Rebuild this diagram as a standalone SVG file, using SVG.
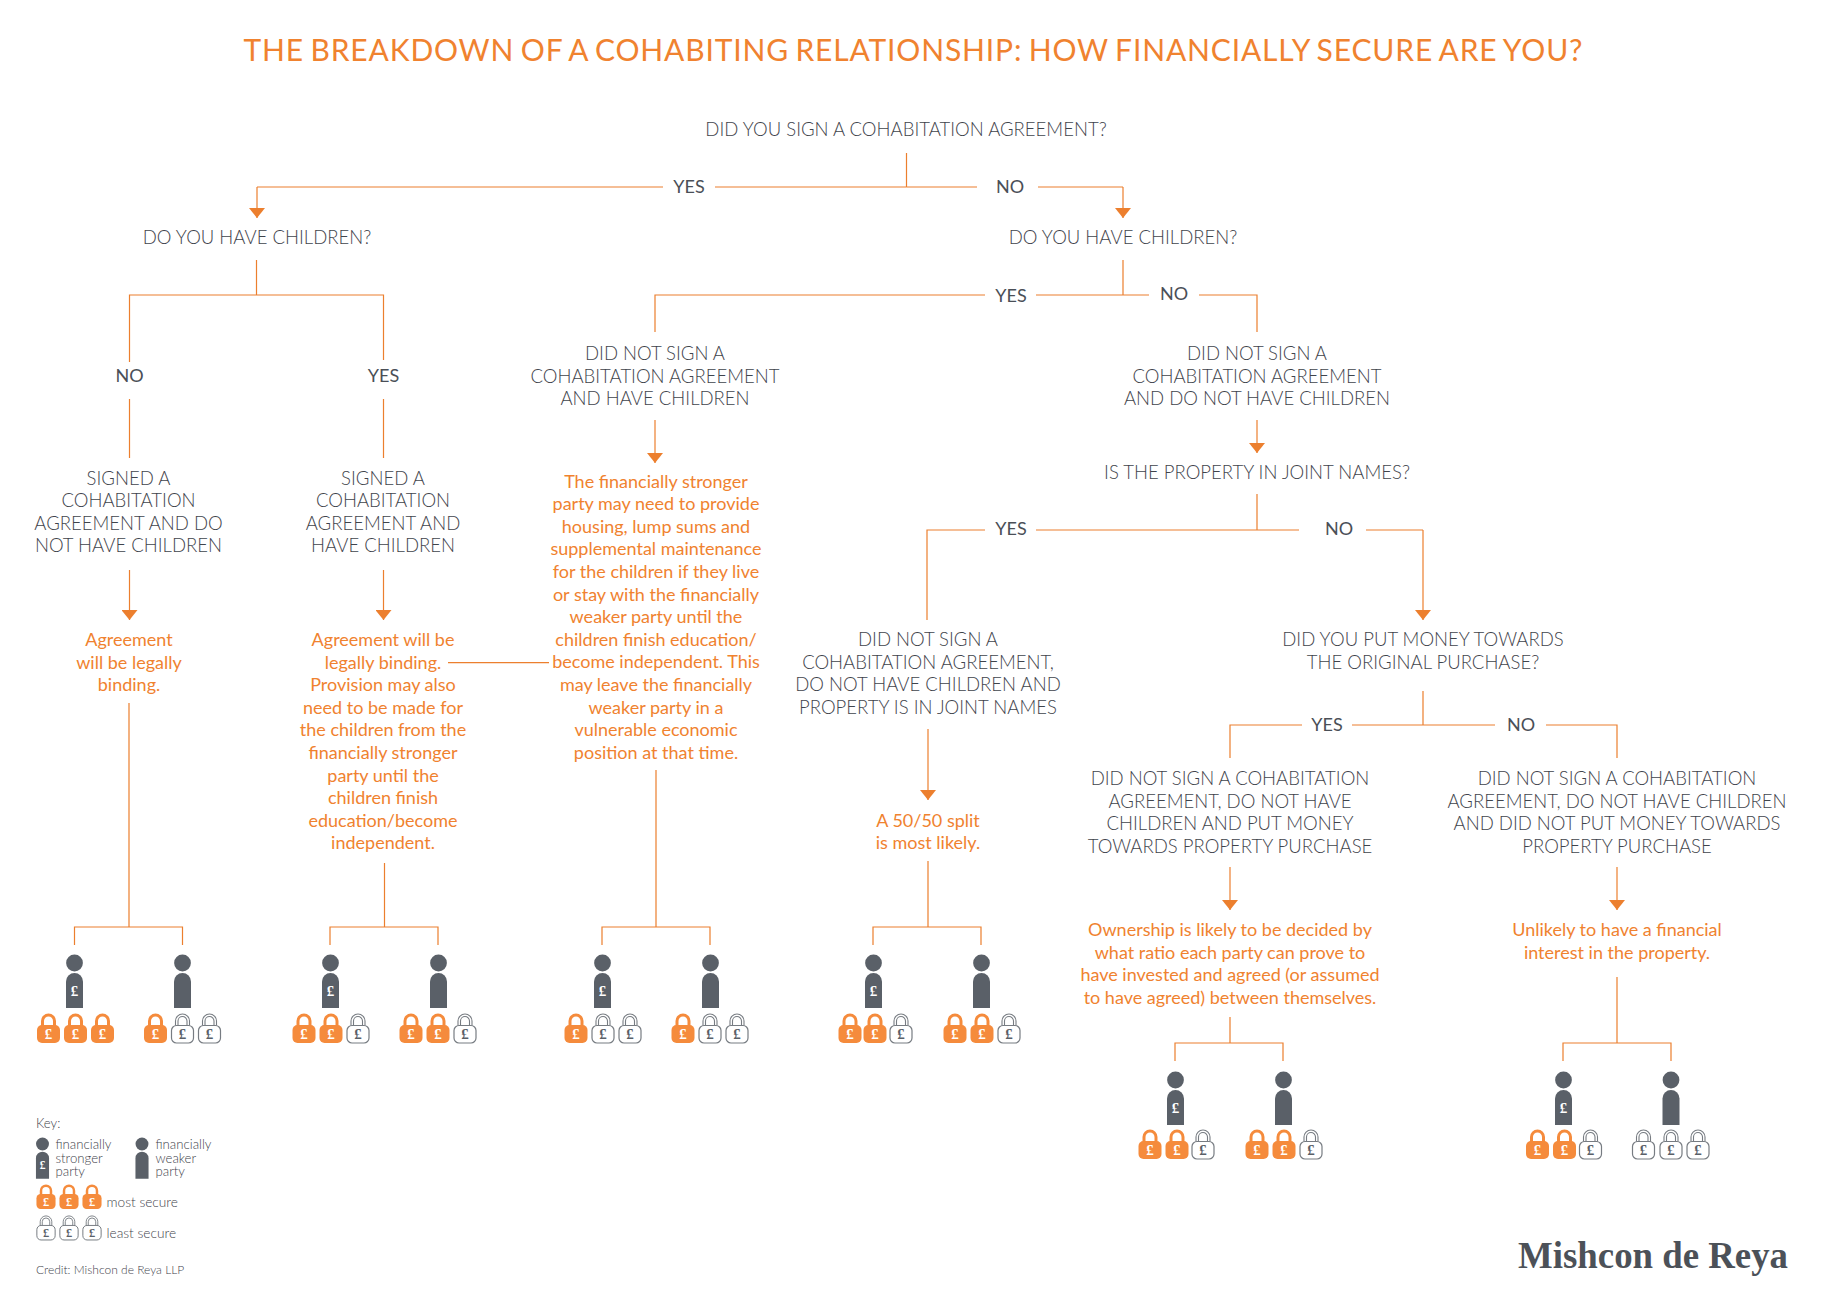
<svg xmlns="http://www.w3.org/2000/svg" width="1823" height="1293" viewBox="0 0 1823 1293">
<style>
text{font-family:"Lato","Open Sans","Liberation Sans",sans-serif}
.q{font-size:18.55px;font-weight:300;fill:#3f444c;text-anchor:middle}
.a{font-size:18px;font-weight:400;fill:#f0822f;text-anchor:middle}
.l{font-size:18px;font-weight:400;fill:#4a4f57;text-anchor:middle}
.k{font-size:13.2px;font-weight:300;fill:#3f444c}
.c{fill:none;stroke:#ec7f2e;stroke-width:1.2}
.arr{marker-end:url(#ah)}
.pw{fill:#fff;font-size:15px;font-weight:700;text-anchor:middle;font-family:"Liberation Serif",serif}
.pd{fill:#5a6068;font-size:15px;font-weight:700;text-anchor:middle;font-family:"Liberation Serif",serif}
</style>
<defs>
<marker id="ah" markerUnits="userSpaceOnUse" markerWidth="16" markerHeight="10" refX="8" refY="10" orient="0" viewBox="0 0 16 10"><path d="M0 0H16L8 10Z" fill="#ec7f2e"/></marker>
<g id="ps"><circle cx="0" cy="0" r="8.4" fill="#5a6068"/><path d="M-8.5 45V18.5a8.5 8.5 0 0 1 17 0V45Z" fill="#5a6068"/><text class="pw" y="33">£</text></g>
<g id="pw"><circle cx="0" cy="0" r="8.4" fill="#5a6068"/><path d="M-8.5 45V18.5a8.5 8.5 0 0 1 17 0V45Z" fill="#5a6068"/></g>
<g id="lo"><path d="M-6 -6V-13a6 6 0 0 1 12 0V-6" fill="none" stroke="#f58b3c" stroke-width="3"/><rect x="-11.5" y="-9" width="23" height="18" rx="5" fill="#f58b3c"/><text class="pw" y="5">£</text></g>
<g id="lg"><path d="M-7 -8V-13a7 7 0 0 1 14 0V-8M-4.5 -8V-13a4.5 4.5 0 0 1 9 0V-8" fill="none" stroke="#777c82" stroke-width="1.1"/><rect x="-11" y="-8.5" width="22" height="17.5" rx="5" fill="#fff" stroke="#777c82" stroke-width="1.2"/><text class="pd" y="5">£</text></g>
</defs>
<rect width="1823" height="1293" fill="#fff"/>
<text id="title" x="913" y="61" font-size="30" font-weight="400" fill="#f0822f" text-anchor="middle" word-spacing="-2" textLength="1339" lengthAdjust="spacing">THE BREAKDOWN OF A COHABITING RELATIONSHIP: HOW FINANCIALLY SECURE ARE YOU?</text>
<g id="connectors">
<path class="c" d="M906.5 153V187M906.5 187H715M663 187H257"/><path class="c arr" d="M257 187V218"/>
<path class="c" d="M906.5 187H977M1038 187H1123"/><path class="c arr" d="M1123 187V218"/>
<path class="c" d="M256.5 260V295M129.5 362V295H383.5V360M129.5 399V458M383.5 399V458"/>
<path class="c arr" d="M129.5 570V620"/><path class="c arr" d="M383.5 570V620"/>
<path class="c" d="M129 703V927M74.5 945V927H182.5V945"/>
<path class="c" d="M384.5 863V927M330 945V927H438V945"/>
<path class="c" d="M448 662.7H549"/>
<path class="c" d="M1123 260V295M655 332V295H985M1036 295H1149"/>
<path class="c" d="M1199 295H1257V332"/>
<path class="c arr" d="M655 420V463"/><path class="c arr" d="M1257 420V453"/>
<path class="c" d="M656 770V927M602 945V927H710V945"/>
<path class="c" d="M1257 494V530M927 620V530H985M1036 530H1299M1366 530H1423"/><path class="c arr" d="M1423 530V620"/>
<path class="c arr" d="M928 729V800"/>
<path class="c" d="M928 861V927M873 945V927H981V945"/>
<path class="c" d="M1423 691V725M1230 758V725H1302M1352 725H1495M1546 725H1617V758"/>
<path class="c arr" d="M1230 867V910"/><path class="c arr" d="M1617 867V910"/>
<path class="c" d="M1230 1017V1043M1175 1061V1043H1283V1061"/>
<path class="c" d="M1617 977V1043M1563 1061V1043H1671V1061"/>
</g>
<g id="edge-labels">
<text class="l" x="689" y="193">YES</text><text class="l" x="1010" y="193">NO</text>
<text class="l" x="129.5" y="382">NO</text><text class="l" x="383.5" y="382">YES</text>
<text class="l" x="1011" y="302">YES</text><text class="l" x="1174" y="300">NO</text>
<text class="l" x="1011" y="535">YES</text><text class="l" x="1339" y="535">NO</text>
<text class="l" x="1327" y="731">YES</text><text class="l" x="1521" y="731">NO</text>
</g>
<g id="n-q1"><text class="q" x="906" y="136">DID YOU SIGN A COHABITATION AGREEMENT?</text></g>
<g id="n-q2"><text class="q" x="257" y="244">DO YOU HAVE CHILDREN?</text></g>
<g id="n-q3"><text class="q" x="1123" y="244">DO YOU HAVE CHILDREN?</text></g>
<g id="n-s1"><text class="q"><tspan x="128.5" y="484.5">SIGNED A</tspan><tspan x="128.5" y="507">COHABITATION</tspan><tspan x="128.5" y="529.5">AGREEMENT AND DO</tspan><tspan x="128.5" y="552">NOT HAVE CHILDREN</tspan></text></g>
<g id="n-s2"><text class="q"><tspan x="383" y="484.5">SIGNED A</tspan><tspan x="383" y="507">COHABITATION</tspan><tspan x="383" y="529.5">AGREEMENT AND</tspan><tspan x="383" y="552">HAVE CHILDREN</tspan></text></g>
<g id="n-a1"><text class="a"><tspan x="129" y="646">Agreement</tspan><tspan x="129" y="668.6">will be legally</tspan><tspan x="129" y="691.2">binding.</tspan></text></g>
<g id="n-a2"><text class="a"><tspan x="383" y="646">Agreement will be</tspan><tspan x="383" y="668.6">legally binding.</tspan><tspan x="383" y="691.2">Provision may also</tspan><tspan x="383" y="713.8">need to be made for</tspan><tspan x="383" y="736.4">the children from the</tspan><tspan x="383" y="759">financially stronger</tspan><tspan x="383" y="781.6">party until the</tspan><tspan x="383" y="804.2">children finish</tspan><tspan x="383" y="826.8">education/become</tspan><tspan x="383" y="849.4">independent.</tspan></text></g>
<g id="n-n1"><text class="q"><tspan x="655" y="360">DID NOT SIGN A</tspan><tspan x="655" y="382.5">COHABITATION AGREEMENT</tspan><tspan x="655" y="405">AND HAVE CHILDREN</tspan></text></g>
<g id="n-a3"><text class="a"><tspan x="656" y="487.5">The financially stronger</tspan><tspan x="656" y="510.1">party may need to provide</tspan><tspan x="656" y="532.7">housing, lump sums and</tspan><tspan x="656" y="555.3">supplemental maintenance</tspan><tspan x="656" y="577.9">for the children if they live</tspan><tspan x="656" y="600.5">or stay with the financially</tspan><tspan x="656" y="623.1">weaker party until the</tspan><tspan x="656" y="645.7">children finish education/</tspan><tspan x="656" y="668.3">become independent. This</tspan><tspan x="656" y="690.9">may leave the financially</tspan><tspan x="656" y="713.5">weaker party in a</tspan><tspan x="656" y="736.1">vulnerable economic</tspan><tspan x="656" y="758.7">position at that time.</tspan></text></g>
<g id="n-n2"><text class="q"><tspan x="1257" y="360">DID NOT SIGN A</tspan><tspan x="1257" y="382.5">COHABITATION AGREEMENT</tspan><tspan x="1257" y="405">AND DO NOT HAVE CHILDREN</tspan></text></g>
<g id="n-q4"><text class="q" x="1257" y="479">IS THE PROPERTY IN JOINT NAMES?</text></g>
<g id="n-n3"><text class="q"><tspan x="928" y="646">DID NOT SIGN A</tspan><tspan x="928" y="668.6">COHABITATION AGREEMENT,</tspan><tspan x="928" y="691.2">DO NOT HAVE CHILDREN AND</tspan><tspan x="928" y="713.8">PROPERTY IS IN JOINT NAMES</tspan></text></g>
<g id="n-a4"><text class="a"><tspan x="928" y="827">A 50/50 split</tspan><tspan x="928" y="849">is most likely.</tspan></text></g>
<g id="n-q5"><text class="q"><tspan x="1423" y="646">DID YOU PUT MONEY TOWARDS</tspan><tspan x="1423" y="668.6">THE ORIGINAL PURCHASE?</tspan></text></g>
<g id="n-n4"><text class="q"><tspan x="1230" y="785">DID NOT SIGN A COHABITATION</tspan><tspan x="1230" y="807.6">AGREEMENT, DO NOT HAVE</tspan><tspan x="1230" y="830.2">CHILDREN AND PUT MONEY</tspan><tspan x="1230" y="852.8">TOWARDS PROPERTY PURCHASE</tspan></text></g>
<g id="n-n5"><text class="q"><tspan x="1617" y="785">DID NOT SIGN A COHABITATION</tspan><tspan x="1617" y="807.6">AGREEMENT, DO NOT HAVE CHILDREN</tspan><tspan x="1617" y="830.2">AND DID NOT PUT MONEY TOWARDS</tspan><tspan x="1617" y="852.8">PROPERTY PURCHASE</tspan></text></g>
<g id="n-a5"><text class="a"><tspan x="1230" y="936">Ownership is likely to be decided by</tspan><tspan x="1230" y="958.6">what ratio each party can prove to</tspan><tspan x="1230" y="981.2">have invested and agreed (or assumed</tspan><tspan x="1230" y="1003.8">to have agreed) between themselves.</tspan></text></g>
<g id="n-a6"><text class="a"><tspan x="1617" y="936">Unlikely to have a financial</tspan><tspan x="1617" y="958.6">interest in the property.</tspan></text></g>
<g id="outcome-1"><use href="#ps" x="74.5" y="963"/><use href="#pw" x="182.5" y="963"/><use href="#lo" x="48.5" y="1034"/><use href="#lo" x="75.5" y="1034"/><use href="#lo" x="102.5" y="1034"/><use href="#lo" x="155.5" y="1034"/><use href="#lg" x="182.5" y="1034"/><use href="#lg" x="209.5" y="1034"/></g>
<g id="outcome-2"><use href="#ps" x="330.5" y="963"/><use href="#pw" x="438.5" y="963"/><use href="#lo" x="304" y="1034"/><use href="#lo" x="331" y="1034"/><use href="#lg" x="358" y="1034"/><use href="#lo" x="411" y="1034"/><use href="#lo" x="438" y="1034"/><use href="#lg" x="465" y="1034"/></g>
<g id="outcome-3"><use href="#ps" x="602.5" y="963"/><use href="#pw" x="710.5" y="963"/><use href="#lo" x="576" y="1034"/><use href="#lg" x="603" y="1034"/><use href="#lg" x="630" y="1034"/><use href="#lo" x="683" y="1034"/><use href="#lg" x="710" y="1034"/><use href="#lg" x="737" y="1034"/></g>
<g id="outcome-4"><use href="#ps" x="873.5" y="963"/><use href="#pw" x="981.5" y="963"/><use href="#lo" x="850" y="1034"/><use href="#lo" x="875" y="1034"/><use href="#lg" x="901" y="1034"/><use href="#lo" x="955" y="1034"/><use href="#lo" x="982" y="1034"/><use href="#lg" x="1009" y="1034"/></g>
<g id="outcome-5"><use href="#ps" x="1175.5" y="1080"/><use href="#pw" x="1283.5" y="1080"/><use href="#lo" x="1150" y="1150"/><use href="#lo" x="1177" y="1150"/><use href="#lg" x="1203" y="1150"/><use href="#lo" x="1257" y="1150"/><use href="#lo" x="1284" y="1150"/><use href="#lg" x="1311" y="1150"/></g>
<g id="outcome-6"><use href="#ps" x="1563.5" y="1080"/><use href="#pw" x="1671" y="1080"/><use href="#lo" x="1537.5" y="1150"/><use href="#lo" x="1564.5" y="1150"/><use href="#lg" x="1590.5" y="1150"/><use href="#lg" x="1643.5" y="1150"/><use href="#lg" x="1671" y="1150"/><use href="#lg" x="1698" y="1150"/></g>
<g id="key">
<text class="k" x="36" y="1128">Key:</text>
<use href="#ps" transform="translate(42.5 1144) scale(.77)"/>
<use href="#pw" transform="translate(142 1144) scale(.77)"/>
<text class="k"><tspan x="55.5" y="1149">financially</tspan><tspan x="55.5" y="1162.5">stronger</tspan><tspan x="55.5" y="1176">party</tspan></text>
<text class="k"><tspan x="155.5" y="1149">financially</tspan><tspan x="155.5" y="1162.5">weaker</tspan><tspan x="155.5" y="1176">party</tspan></text>
<use href="#lo" transform="translate(46 1201.5) scale(.83)"/><use href="#lo" transform="translate(69 1201.5) scale(.83)"/><use href="#lo" transform="translate(92 1201.5) scale(.83)"/>
<text class="k" x="106.5" y="1207" style="font-size:13.7px">most secure</text>
<use href="#lg" transform="translate(46 1232.5) scale(.83)"/><use href="#lg" transform="translate(69 1232.5) scale(.83)"/><use href="#lg" transform="translate(92 1232.5) scale(.83)"/>
<text class="k" x="106.5" y="1238" style="font-size:13.7px">least secure</text>
<text class="k" x="36" y="1274" style="font-size:12px">Credit: Mishcon de Reya LLP</text>
</g>
<g id="logo"><text x="1518" y="1268" textLength="270" lengthAdjust="spacingAndGlyphs" style="font-family:'Liberation Serif',serif;font-size:38px;font-weight:700;fill:#4c5158">Mishcon de Reya</text></g>
</svg>
